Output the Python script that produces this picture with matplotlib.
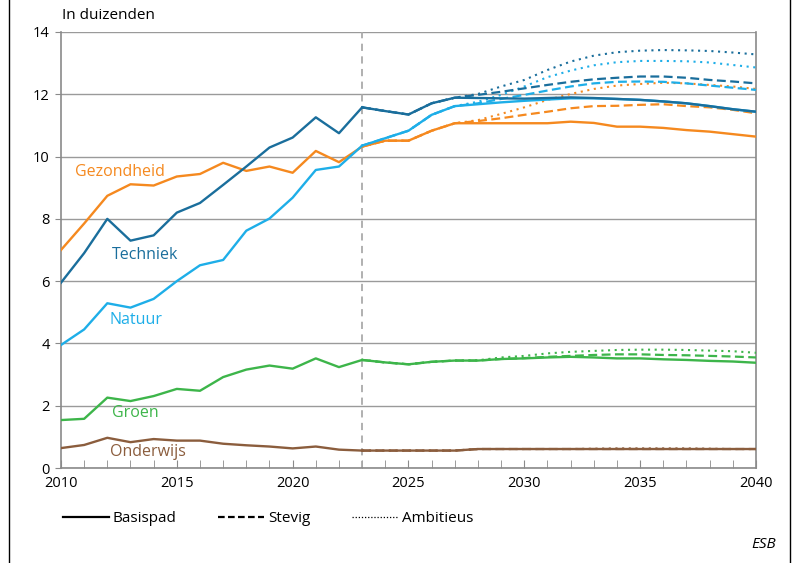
import matplotlib.pyplot as plt
from matplotlib.lines import Line2D

plt.rcParams['font.family'] = ['Open Sans', 'DejaVu Sans']

# historical years 2010-2023, projections 2023-2040
jaren_hist = list(range(2010, 2024))
jaren_proj = list(range(2023, 2041))

techniek_hist = [5.95, 6.9, 8.0, 7.3, 7.47, 8.2, 8.51, 9.09, 9.68, 10.29, 10.61, 11.26, 10.75, 11.58]
gezond_hist = [7.0, 7.85, 8.74, 9.11, 9.07, 9.36, 9.44, 9.80, 9.54, 9.68, 9.48, 10.18, 9.82, 10.32]
natuur_hist = [3.95, 4.45, 5.29, 5.15, 5.43, 6.0, 6.51, 6.68, 7.62, 8.01, 8.68, 9.57, 9.68, 10.35]
groen_hist = [1.54, 1.58, 2.26, 2.15, 2.31, 2.54, 2.48, 2.92, 3.16, 3.29, 3.19, 3.52, 3.24, 3.47]
onderwijs_hist = [0.64, 0.74, 0.97, 0.83, 0.93, 0.88, 0.88, 0.78, 0.73, 0.69, 0.63, 0.69, 0.59, 0.56]

# projections: basispad / stevig / ambitieus (2023..2040)
techniek_basis = [11.58, 11.46, 11.35, 11.71, 11.89, 11.88, 11.87, 11.86, 11.88, 11.90, 11.88, 11.85, 11.82, 11.77, 11.71, 11.62, 11.52, 11.44]
techniek_stevig = [11.58, 11.46, 11.35, 11.71, 11.89, 11.98, 12.08, 12.19, 12.30, 12.40, 12.48, 12.53, 12.57, 12.57, 12.53, 12.46, 12.41, 12.35]
techniek_ambit = [11.58, 11.46, 11.35, 11.71, 11.89, 12.01, 12.25, 12.46, 12.78, 13.05, 13.24, 13.35, 13.40, 13.42, 13.41, 13.39, 13.34, 13.28]

natuur_basis = [10.35, 10.59, 10.83, 11.34, 11.62, 11.68, 11.74, 11.79, 11.83, 11.87, 11.87, 11.85, 11.82, 11.77, 11.71, 11.62, 11.52, 11.44]
natuur_stevig = [10.35, 10.59, 10.83, 11.34, 11.62, 11.71, 11.85, 11.98, 12.12, 12.25, 12.35, 12.40, 12.41, 12.40, 12.35, 12.28, 12.21, 12.14]
natuur_ambit = [10.35, 10.59, 10.83, 11.34, 11.62, 11.76, 11.98, 12.25, 12.55, 12.76, 12.93, 13.03, 13.07, 13.07, 13.06, 13.02, 12.94, 12.86]

gezond_basis = [10.32, 10.51, 10.51, 10.83, 11.07, 11.07, 11.07, 11.07, 11.07, 11.12, 11.08, 10.96, 10.96, 10.92, 10.85, 10.80, 10.72, 10.64]
gezond_stevig = [10.32, 10.51, 10.51, 10.83, 11.07, 11.14, 11.23, 11.34, 11.44, 11.55, 11.62, 11.63, 11.66, 11.68, 11.62, 11.58, 11.50, 11.39]
gezond_ambit = [10.32, 10.51, 10.51, 10.83, 11.07, 11.17, 11.37, 11.58, 11.82, 12.01, 12.17, 12.28, 12.33, 12.37, 12.35, 12.30, 12.25, 12.17]

groen_basis = [3.47, 3.39, 3.33, 3.41, 3.45, 3.45, 3.50, 3.52, 3.55, 3.57, 3.55, 3.52, 3.52, 3.49, 3.47, 3.44, 3.42, 3.38]
groen_stevig = [3.47, 3.39, 3.33, 3.41, 3.45, 3.45, 3.50, 3.53, 3.57, 3.60, 3.63, 3.65, 3.65, 3.63, 3.62, 3.60, 3.58, 3.55]
groen_ambit = [3.47, 3.39, 3.33, 3.41, 3.45, 3.46, 3.55, 3.60, 3.68, 3.73, 3.76, 3.79, 3.80, 3.80, 3.79, 3.77, 3.75, 3.70]

onderwijs_basis = [0.56, 0.56, 0.56, 0.56, 0.56, 0.61, 0.61, 0.61, 0.61, 0.61, 0.61, 0.61, 0.61, 0.61, 0.61, 0.61, 0.61, 0.61]
onderwijs_stevig = [0.56, 0.56, 0.56, 0.56, 0.56, 0.61, 0.61, 0.61, 0.61, 0.61, 0.61, 0.61, 0.61, 0.61, 0.61, 0.61, 0.61, 0.61]
onderwijs_ambit = [0.56, 0.56, 0.56, 0.56, 0.56, 0.61, 0.61, 0.61, 0.61, 0.61, 0.62, 0.63, 0.63, 0.63, 0.63, 0.62, 0.61, 0.61]

c_techniek = '#1a6e9c'
c_natuur = '#1eaee8'
c_gezond = '#f5891f'
c_groen = '#3db54a'
c_onderwijs = '#8b5d3d'

reeksen = [
    ('Gezondheid', c_gezond, gezond_hist, gezond_basis, gezond_stevig, gezond_ambit, (2010.6, 9.5)),
    ('Natuur', c_natuur, natuur_hist, natuur_basis, natuur_stevig, natuur_ambit, (2012.1, 4.75)),
    ('Techniek', c_techniek, techniek_hist, techniek_basis, techniek_stevig, techniek_ambit, (2012.2, 6.85)),
    ('Groen', c_groen, groen_hist, groen_basis, groen_stevig, groen_ambit, (2012.2, 1.77)),
    ('Onderwijs', c_onderwijs, onderwijs_hist, onderwijs_basis, onderwijs_stevig, onderwijs_ambit, (2012.1, 0.51)),
]

fig = plt.figure(figsize=(7.93, 5.63), dpi=100)
ax = fig.add_axes([0.0769, 0.1687, 0.8764, 0.7745])

for naam, kleur, hist, basis, stevig, ambit, pos in reeksen:
    ax.plot(jaren_proj, ambit, color=kleur, lw=1.5, linestyle=(0, (1, 2.2)), zorder=3)
    ax.plot(jaren_proj, stevig, color=kleur, lw=1.6, linestyle=(0, (4, 2)), zorder=3)
    ax.plot(jaren_hist, hist, color=kleur, lw=1.7, zorder=4)
    ax.plot(jaren_proj, basis, color=kleur, lw=1.7, zorder=4)
    ax.text(pos[0], pos[1], naam, color=kleur, fontsize=11.5, va='center', ha='left')

# start of projections
ax.axvline(2023, color='#aaaaaa', lw=1.3, linestyle=(0, (4, 3)), zorder=2)

ax.set_xlim(2010, 2040)
ax.set_ylim(0, 14)
ax.set_yticks(range(0, 15, 2))
ax.set_xticks(range(2010, 2041, 5))
ax.set_xticks(range(2010, 2041), minor=True)
ax.grid(axis='y', color='#9a9a9a', lw=1)
ax.set_axisbelow(True)
ax.tick_params(axis='x', which='both', direction='in', length=6, color='#8a8a8a', labelsize=10.5, pad=6)
ax.tick_params(axis='y', direction='out', length=4, color='#8a8a8a', labelsize=10.5, pad=4)
for s in ['left', 'right', 'bottom']:
    ax.spines[s].set_color('#8a8a8a')
    ax.spines[s].set_linewidth(1.2)
ax.spines['top'].set_visible(False)

fig.text(0.078, 0.972, 'In duizenden', fontsize=11, va='center', ha='left')
fig.text(0.978, 0.032, 'ESB', fontsize=11, style='italic', ha='right', va='center')

handles = [Line2D([], [], color='black', lw=1.6),
           Line2D([], [], color='black', lw=1.6, linestyle=(0, (3, 1.5))),
           Line2D([], [], color='black', lw=0.9, linestyle=(0, (1, 1.5)))]
fig.legend(handles, ['Basispad', 'Stevig', 'Ambitieus'], loc='center left',
           bbox_to_anchor=(0.062, 0.079), ncol=3, frameon=False, fontsize=11,
           handlelength=3.0, handletextpad=0.25, columnspacing=2.75)

# side frame lines
fig.add_artist(Line2D([0.0113, 0.0113], [0, 1], color='black', lw=1))
fig.add_artist(Line2D([0.9962, 0.9962], [0, 1], color='black', lw=1))

fig.savefig('out.png', dpi=100)
